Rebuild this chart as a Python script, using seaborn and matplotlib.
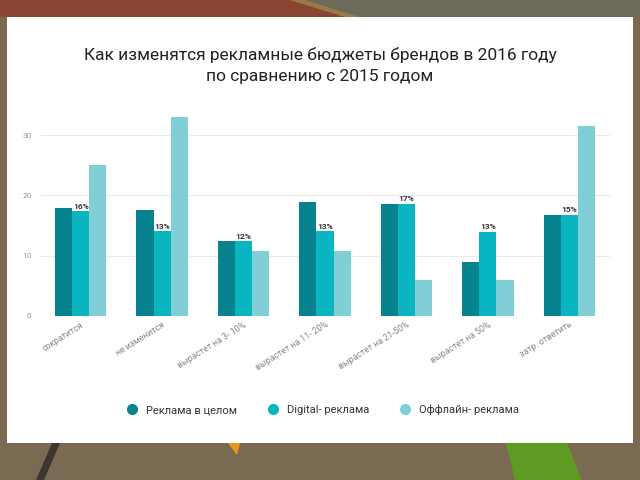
import pandas as pd
import matplotlib.pyplot as plt
import seaborn as sns
from matplotlib.patches import Rectangle, Polygon
from matplotlib.lines import Line2D

categories = ['сократится', 'не изменится', 'вырастет на 3- 10%', 'вырастет на 11- 20%',
              'вырастет на 21-50%', 'вырастет на 50%', 'затр. ответить']
series = ['Реклама в целом', 'Digital- реклама', 'Оффлайн- реклама']
total_vals = [17.9, 17.6, 12.4, 18.9, 18.6, 9.0, 16.8]
digital_vals = [17.4, 14.1, 12.4, 14.1, 18.6, 14.0, 16.8]
offline_vals = [25.0, 33.0, 10.8, 10.8, 6.0, 5.9, 31.5]
digital_labels = ['16%', '13%', '12%', '13%', '17%', '13%', '15%']
colors = ['#06838f', '#08b5c0', '#80ced6']

df = pd.DataFrame({
    'Категория': categories * 3,
    'Серия': [series[0]] * 7 + [series[1]] * 7 + [series[2]] * 7,
    'Значение': total_vals + digital_vals + offline_vals,
})

sns.set_style('white')
plt.rcParams['font.family'] = ['Roboto', 'DejaVu Sans']

fig = plt.figure(figsize=(6.4, 4.8), dpi=100, facecolor='#7b6a52')


def px(points):
    # пиксели картинки (сверху вниз) -> доли фигуры
    return [(x / 640, 1 - y / 480) for x, y in points]


# фон вокруг карточки
fig.patches.append(Polygon(px([(0, 0), (290, 0), (345, 17), (0, 17)]),
                           transform=fig.transFigure, facecolor='#8b4434',
                           edgecolor='none', zorder=-10))
fig.patches.append(Polygon(px([(290, 0), (305, 0), (360, 17), (345, 17)]),
                           transform=fig.transFigure, facecolor='#9a7a45',
                           edgecolor='none', zorder=-10))
fig.patches.append(Polygon(px([(305, 0), (640, 0), (640, 17), (360, 17)]),
                           transform=fig.transFigure, facecolor='#6c6a58',
                           edgecolor='none', zorder=-10))
fig.patches.append(Polygon(px([(506, 443), (567, 443), (582, 480), (515, 480)]),
                           transform=fig.transFigure, facecolor='#5f9a22',
                           edgecolor='none', zorder=-10))
fig.patches.append(Polygon(px([(228, 443), (240, 443), (237, 455)]),
                           transform=fig.transFigure, facecolor='#e8961c',
                           edgecolor='none', zorder=-10))
fig.patches.append(Polygon(px([(52, 443), (60, 443), (44, 480), (36, 480)]),
                           transform=fig.transFigure, facecolor='#3e3530',
                           edgecolor='none', zorder=-10))
# белая карточка
fig.patches.append(Rectangle((7 / 640, 1 - 443 / 480), 626 / 640, 426 / 480,
                             transform=fig.transFigure, facecolor='white',
                             edgecolor='none', zorder=-5))

ax = fig.add_axes([40 / 640, 1 - 316 / 480, 570 / 640, 205 / 480])
ax.set_facecolor('none')
sns.barplot(data=df, x='Категория', y='Значение', hue='Серия', palette=colors,
            width=0.63, gap=0, saturation=1, legend=False, linewidth=0, ax=ax)

ax.bar_label(ax.containers[1], labels=digital_labels, fontsize=6, color='#333333',
             fontweight='bold', padding=1)

ax.set_ylim(0, 34)
ax.set_xlim(-0.5, 6.5)
ax.set_yticks([0, 10, 20, 30])
ax.yaxis.grid(True, color='#ebebeb', linewidth=0.8)
ax.set_axisbelow(True)
for s in ax.spines.values():
    s.set_visible(False)
ax.tick_params(axis='y', labelsize=6, colors='#999999', length=0, pad=6)
ax.tick_params(axis='x', labelsize=6.3, colors='#888888', length=0, pad=3)
plt.setp(ax.get_xticklabels(), rotation=32, ha='right', rotation_mode='anchor')
ax.set_xlabel('')
ax.set_ylabel('')

fig.text(0.5, 1 - 55 / 480, 'Как изменятся рекламные бюджеты брендов в 2016 году',
         ha='center', va='center', fontsize=12.5, color='#222222')
fig.text(0.5, 1 - 77 / 480, 'по сравнению с 2015 годом',
         ha='center', va='center', fontsize=12.5, color='#222222')

handles = [Line2D([], [], marker='o', linestyle='none', markersize=7,
                  markerfacecolor=c, markeredgecolor=c) for c in colors]
fig.legend(handles, series, loc='center', bbox_to_anchor=(0.5, 1 - 410 / 480),
           ncol=3, frameon=False, fontsize=8, handletextpad=0.3, columnspacing=2.2,
           labelcolor='#333333')

fig.savefig('out.png', dpi=100, facecolor=fig.get_facecolor())
